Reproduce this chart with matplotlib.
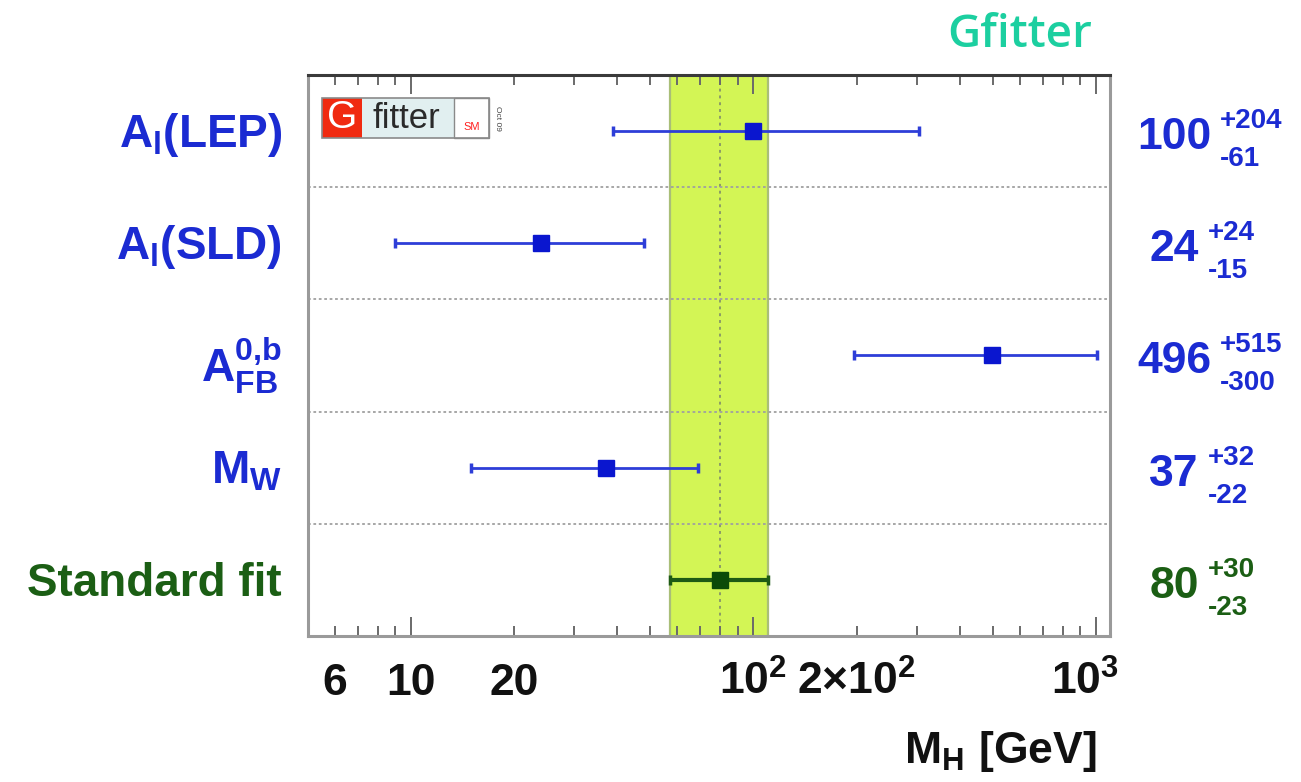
import matplotlib
matplotlib.use("Agg")
import matplotlib.pyplot as plt
import matplotlib.transforms as mtransforms
from matplotlib.ticker import FixedLocator, NullFormatter
from matplotlib.patches import Rectangle

plt.rcParams['font.family'] = ['Liberation Sans', 'DejaVu Sans']
plt.rcParams['mathtext.fontset'] = 'custom'
for key in ('rm', 'bf', 'it', 'sf'):
    plt.rcParams['mathtext.' + key] = 'Liberation Sans:bold'

# ---- data -------------------------------------------------------------
row_labels = [r"$\mathrm{A_{l}(LEP)}$", r"$\mathrm{A_{l}(SLD)}$",
              r"$\mathrm{A^{0{,}b}_{FB}}$", r"$\mathrm{M_{W}}$", "Standard fit"]
mh_central = [100, 24, 496, 37, 80]
mh_err_up = [204, 24, 515, 32, 30]
mh_err_down = [61, 15, 300, 22, 23]
is_standard_fit = [False, False, False, False, True]

tick_values = [6, 10, 20, 100, 200, 1000]
tick_texts = ["6", "10", "20", r"$\mathrm{10^{2}}$", r"$\mathrm{2×10^{2}}$", r"$\mathrm{10^{3}}$"]

# ---- style ------------------------------------------------------------
W, H = 1301, 782
BLUE_TXT = "#1b2bd2"
BLUE_MK = "#0a16cf"
BLUE_LN = "#2e3ed8"
GREEN_TXT = "#1b5e14"
GREEN_MK = "#0b4a08"
BAND = "#d3f555"
TEAL = "#1ccfa0"

fig = plt.figure(figsize=(W / 100, H / 100), dpi=100)
fig.patch.set_facecolor("white")


def fx(px):
    return px / W


def fy(py):
    return 1 - py / H


ax = fig.add_axes([fx(308), fy(636), (1110 - 308) / W, (636 - 75) / H])
ax.set_xscale("log")
ax.set_xlim(5, 1100)
n = len(mh_central)
rows = list(range(n))
ax.set_ylim(n - 0.5, -0.5)

# frame
for side in ("left", "right", "bottom"):
    ax.spines[side].set_color("#9a9a9a")
    ax.spines[side].set_linewidth(2.2)
ax.spines["top"].set_color("#3a3a3a")
ax.spines["top"].set_linewidth(2.2)

# ticks: long at decades, short in between, on top and bottom
ax.xaxis.set_major_locator(FixedLocator([10, 100, 1000]))
minor = [v * d for d in (1, 10, 100) for v in range(2, 10)
         if 5 < v * d <= 1100 and v * d not in (10, 100, 1000)]
ax.xaxis.set_minor_locator(FixedLocator(minor))
ax.xaxis.set_major_formatter(NullFormatter())
ax.xaxis.set_minor_formatter(NullFormatter())
ax.tick_params(axis="x", which="both", direction="in", top=True, bottom=True,
               color="#6a6a6a", width=1.4)
ax.tick_params(axis="x", which="major", length=14)
ax.tick_params(axis="x", which="minor", length=7)
ax.tick_params(axis="y", which="both", left=False, right=False, labelleft=False)

# standard fit band
fit_i = is_standard_fit.index(True)
band_lo = mh_central[fit_i] - mh_err_down[fit_i]
band_hi = mh_central[fit_i] + mh_err_up[fit_i]
ax.axvspan(band_lo, band_hi, color=BAND, zorder=0, lw=0)
for xv in (band_lo, band_hi):
    ax.axvline(xv, color="#a9be78", lw=1.6, zorder=1)
ax.axvline(mh_central[fit_i], color="#8c9c66", lw=1.4, ls=(0, (1.5, 2.0)), zorder=1)

# row separators
for k in range(n - 1):
    ax.axhline(k + 0.5, color="#a0a0a0", lw=1.3, ls=(0, (1.5, 1.5)), zorder=1)

# measurements
for i in rows:
    fit = is_standard_fit[i]
    ax.errorbar([mh_central[i]], [i], xerr=[[mh_err_down[i]], [mh_err_up[i]]],
                fmt="s", ms=11.5, mfc=GREEN_MK if fit else BLUE_MK,
                mec=GREEN_MK if fit else BLUE_MK,
                ecolor="#1d5a14" if fit else BLUE_LN,
                elinewidth=3.0 if fit else 2.0, capsize=3.5, capthick=2.5, zorder=3)

# tick labels (baseline aligned so that exponents sit above the digits)
tick_tr = mtransforms.blended_transform_factory(ax.transData, fig.transFigure)
for v, t in zip(tick_values, tick_texts):
    dx = -11 if v == 1000 else 0
    ax.text(v, fy(695), t, transform=mtransforms.offset_copy(tick_tr, fig=fig, x=dx, units="dots"),
            ha="center", va="baseline", fontsize=32, fontweight="bold", color="#111111", clip_on=False)

fig.text(fx(1097), fy(763), r"$\mathrm{M_{H}\ [GeV]}$", ha="right", va="baseline",
         fontsize=32, color="#111111")

# row labels on the left
lab_tr = mtransforms.blended_transform_factory(fig.transFigure, ax.transData)
for i in rows:
    col = GREEN_TXT if is_standard_fit[i] else BLUE_TXT
    shift = -26 if "FB" in row_labels[i] else -16
    ax.text(fx(282), i, row_labels[i], transform=mtransforms.offset_copy(lab_tr, fig=fig, y=shift, units="dots"),
            ha="right", va="baseline", fontsize=33, fontweight="bold", color=col, clip_on=False)

# fitted values on the right
fig.canvas.draw()
renderer = fig.canvas.get_renderer()
for i in rows:
    col = GREEN_TXT if is_standard_fit[i] else BLUE_TXT
    main = ax.text(fx(1174), i, f"{mh_central[i]}",
                   transform=mtransforms.offset_copy(lab_tr, fig=fig, y=-18, units="dots"),
                   ha="center", va="baseline", fontsize=32, fontweight="bold", color=col, clip_on=False)
    bb = main.get_window_extent(renderer)
    x_sup = fx(bb.x1 + 9)
    ax.text(x_sup, i, f"+{mh_err_up[i]}",
            transform=mtransforms.offset_copy(lab_tr, fig=fig, y=3, units="dots"),
            ha="left", va="baseline", fontsize=20, fontweight="bold", color=col, clip_on=False)
    ax.text(x_sup, i, f"-{mh_err_down[i]}",
            transform=mtransforms.offset_copy(lab_tr, fig=fig, y=-35, units="dots"),
            ha="left", va="baseline", fontsize=20, fontweight="bold", color=col, clip_on=False)

# Gfitter logo in the top-left corner of the frame
def box(x0, y0, x1, y1, **kw):
    fig.patches.append(Rectangle((fx(x0), fy(y1)), fx(x1) - fx(x0), fy(y0) - fy(y1),
                                 transform=fig.transFigure, **kw))


box(322, 98, 489, 138, facecolor="none", edgecolor="#8a8a8a", lw=1.2, zorder=6)
box(322, 98, 362, 138, facecolor="#f02a10", edgecolor="none", zorder=5)
box(362, 98, 454, 138, facecolor="#e1eff0", edgecolor="none", zorder=5)
box(454, 98, 489, 138, facecolor="white", edgecolor="#8a8a8a", lw=1.0, zorder=5)
fig.text(fx(342), fy(118), "G", ha="center", va="center", fontsize=28, color="white", zorder=7)
fig.text(fx(406), fy(118), "fitter", ha="center", va="center", fontsize=25, color="#2a2a2a", zorder=7)
fig.text(fx(472), fy(127), "SM", ha="center", va="center", fontsize=8, color="#ff2020", zorder=7)
fig.text(fx(497), fy(118), "Oct 09", ha="center", va="center", fontsize=6, rotation=270,
         color="#444444", zorder=7)

# header
fig.text(fx(1020), fy(47), "Gfitter", ha="center", va="baseline", fontsize=33,
         family="Open Sans", fontweight="semibold", color=TEAL)

fig.savefig("out.png", dpi=100, facecolor="white")
